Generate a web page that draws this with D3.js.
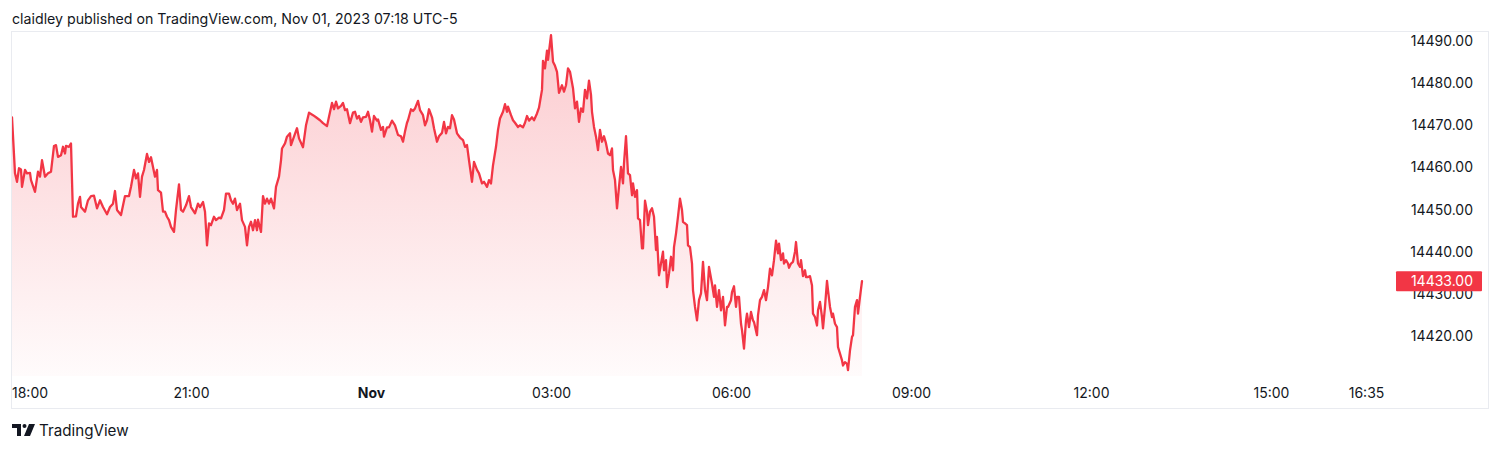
<!DOCTYPE html>
<html>
<head>
<meta charset="utf-8">
<script src="https://cdn.jsdelivr.net/npm/d3@7/dist/d3.min.js"></script>
<style>
  html, body { margin: 0; padding: 0; background: #ffffff; }
  svg { display: block; }
  text { font-family: Inter, "Noto Sans", sans-serif; fill: #131722; }
</style>
</head>
<body>
<svg id="chart" width="1500" height="450"></svg>
<script>
// ---- data (minutes after Oct 31, 18:00 chart time; price) ----
const minutes = [
  1,4,6,8,10,11,14,16,19,20,24,27,29,31,34,37,40,43,45,47,50,52,54,55,58,60,
  62,65,67,69,70,74,77,80,83,86,89,92,96,99,102,104,106,110,114,118,120,123,125,127,129,131,133,136,138,140,142,144,146,147,150,152,154,156,158,160,163,165,168,170,172,175,178,180,184,187,189,192,194,196,198,200,203,205,208,210,213,215,218,220,222,224,226,229,231,234,236,238,240,242,244,246,247,250,252,254,256,258,260,263,265,268,270,271,274,276,279,280,283,286,
  288,292,295,298,302,305,309,312,316,318,321,323,325,327,330,332,334,336,339,342,344,346,348,350,352,355,357,359,361,363,366,367,370,372,373,376,378,381,384,387,390,392,394,396,397,400,402,404,407,409,412,414,416,418,421,423,426,428,431,433,435,437,439,441,443,446,449,452,454,456,458,461,463,466,468,471,473,476,478,480,482,485,487,489,492,494,496,497,500,502,504,507,509,512,514,516,518,521,523,526,528,531,532,534,536,537,540,542,544,546,548,551,553,555,557,559,562,564,566,568,
  570,572,574,576,578,580,581,583,585,587,589,591,593,595,597,599,601,602,604,606,608,610,612,613,615,617,619,621,622,624,626,627,629,631,632,634,636,637,639,641,643,645,646,648,650,652,653,655,656,658,660,662,663,665,667,669,671,672,674,676,677,679,681,682,684,686,688,690,692,694,696,698,701,703,704,706,708,710,712,714,716,717,720,721,723,725,726,728,730,731,733,735,736,738,740,742,743,746,747,749,751,753,755,757,759,761,763,765,767,768,770,772,773,775,777,778,780,782,784,785,787,789,790,792,794,795,797,799,801,802,804,806,807,809,811,812,814,816,817,819,821,822,824,826,827,829,831,832,834,836,837,839,841,842,844,846,847,849,851
];
const prices = [
  14471.9,14458.6,14456.6,14459.8,14459.5,14455.4,14459.4,14458.6,14458.7,14457.0,14454.2,14459.0,14457.8,14461.7,14457.8,14458.6,14459.0,14465.1,14465.3,14462.5,14462.9,14464.9,14463.3,14465.1,14464.9,14465.7,
  14448.3,14448.4,14451.4,14453.0,14450.6,14449.5,14452.2,14453.2,14453.3,14450.3,14452.2,14450.6,14448.9,14450.6,14451.4,14454.4,14449.9,14448.7,14453.2,14453.2,14455.4,14459.4,14457.4,14458.6,14453.0,14457.8,14459.4,14463.2,14461.3,14462.4,14460.1,14457.8,14459.4,14454.6,14454.0,14449.5,14449.5,14448.3,14447.5,14445.9,14444.7,14449.9,14456.0,14449.9,14449.5,14451.0,14453.2,14450.6,14449.1,14451.4,14450.6,14451.8,14449.5,14441.5,14446.7,14446.3,14448.3,14447.5,14448.1,14447.9,14449.9,14453.8,14453.8,14452.2,14451.4,14452.6,14449.9,14451.4,14447.5,14445.9,14441.5,14445.9,14447.1,14445.1,14447.5,14445.1,14447.6,14444.7,14453.2,14451.4,14452.6,14451.4,14452.6,14450.3,14455.4,14457.8,14461.7,14464.5,14465.7,14467.3,14468.1,14465.3,14467.3,14469.3,
  14466.9,14464.8,14470.0,14473.0,14472.4,14471.9,14471.2,14470.5,14469.8,14472.0,14475.3,14473.8,14475.6,14474.0,14474.6,14475.3,14473.6,14473.8,14470.5,14473.0,14473.2,14471.6,14472.2,14470.8,14471.9,14472.0,14473.2,14471.2,14468.5,14472.2,14471.1,14471.4,14468.9,14469.6,14467.3,14469.5,14469.5,14471.1,14470.0,14467.7,14467.4,14466.1,14468.5,14470.6,14471.2,14473.8,14473.4,14474.0,14475.8,14473.6,14472.4,14470.0,14471.2,14473.8,14471.9,14469.3,14466.1,14467.4,14468.2,14470.8,14468.1,14469.6,14469.3,14472.4,14471.4,14468.1,14467.1,14466.5,14464.9,14465.3,14461.7,14456.6,14461.3,14459.4,14458.6,14456.2,14456.6,14455.4,14457.0,14456.2,14460.5,14464.9,14468.9,14471.6,14473.2,14475.0,14473.2,14474.4,14472.4,14471.2,14470.6,14469.6,14470.0,14469.5,14470.6,14472.2,14471.1,14471.9,14471.2,14472.8,14474.2,14478.4,14485.3,14483.5,14487.7,14485.5,14491.4,14485.1,14484.1,14482.7,14477.7,14479.5,14478.0,14479.5,14483.5,14482.7,14478.8,14474.0,14475.6,14470.8,
  14474.0,14473.2,14478.4,14476.4,14480.6,14477.2,14473.2,14469.6,14467.3,14464.1,14468.9,14466.1,14467.4,14465.7,14463.3,14462.9,14464.5,14459.4,14457.0,14450.3,14455.4,14460.1,14456.2,14461.0,14467.4,14458.6,14458.2,14453.4,14456.2,14453.0,14454.6,14447.9,14447.5,14440.8,14440.8,14452.1,14449.5,14446.3,14449.5,14450.3,14448.3,14440.4,14443.5,14434.4,14437.2,14440.0,14435.6,14438.0,14431.6,14434.8,14438.8,14435.6,14441.1,14444.3,14448.3,14452.6,14449.9,14447.1,14446.7,14446.3,14441.5,14441.1,14437.2,14430.9,14426.9,14423.7,14428.5,14430.1,14437.6,14430.9,14428.5,14436.4,14432.4,14429.3,14432.0,14426.9,14430.9,14426.1,14429.3,14422.5,14426.9,14426.9,14428.5,14430.4,14431.8,14426.9,14429.3,14429.3,14422.9,14421.4,14417.0,14423.7,14425.3,14422.1,14425.7,14423.7,14423.3,14420.2,14424.9,14428.5,14429.3,14430.9,14428.5,14431.6,14436.0,14434.4,14438.0,14442.6,14439.6,14441.9,14438.0,14439.6,14437.2,14438.0,14437.2,14436.2,14437.2,14437.6,14440.0,14442.3,14437.2,14436.4,14438.0,14434.2,14435.6,14434.0,14434.0,14434.2,14432.0,14425.3,14424.5,14422.5,14426.1,14428.1,14424.5,14421.8,14426.9,14433.1,14430.9,14426.9,14424.5,14425.3,14422.9,14422.1,14417.4,14415.8,14414.2,14413.0,14413.8,14413.4,14411.9,14416.6,14419.8,14420.2,14426.9,14428.5,14425.3,14429.3,14433.0
];
const priceTicks = [14420, 14430, 14440, 14450, 14460, 14470, 14480, 14490];
const timeTickMinutes = [0, 180, 360, 540, 720, 900, 1080, 1260, 1355];
const timeTickLabels = ["18:00", "21:00", "Nov", "03:00", "06:00", "09:00", "12:00", "15:00", "16:35"];
const lastPrice = 14433.00;
const headerText = "claidley published on TradingView.com, Nov 01, 2023 07:18 UTC-5";
const brandText = "TradingView";

// ---- layout ----
const svg = d3.select("#chart");
const base = new Date(2023, 9, 31, 18, 0, 0);
const toDate = m => new Date(base.getTime() + m * 60000);
const pane = { left: 11, right: 1396, top: 31, bottom: 376 };
const frame = { left: 11, right: 1488, top: 31, bottom: 408 };

const x = d3.scaleTime()
  .domain([toDate(0), toDate(1385)])
  .range([pane.left, pane.right]);
const y = d3.scaleLinear()
  .domain([14420, 14490])
  .range([336, 41]);

const data = minutes.map((m, i) => ({ t: toDate(m), v: prices[i] }));

// header
svg.append("text")
  .attr("x", 12).attr("y", 24)
  .attr("font-size", 14.2)
  .text(headerText);

// frame
svg.append("rect")
  .attr("x", frame.left + 0.5).attr("y", frame.top + 0.5)
  .attr("width", frame.right - frame.left).attr("height", frame.bottom - frame.top)
  .attr("fill", "none").attr("stroke", "#e9ebf0").attr("stroke-width", 1);

// gradient
const defs = svg.append("defs");
const grad = defs.append("linearGradient")
  .attr("id", "areaGrad").attr("gradientUnits", "userSpaceOnUse")
  .attr("x1", 0).attr("x2", 0).attr("y1", y(d3.max(prices))).attr("y2", pane.bottom);
grad.append("stop").attr("offset", 0).attr("stop-color", "#f23645").attr("stop-opacity", 0.26);
grad.append("stop").attr("offset", 1).attr("stop-color", "#f23645").attr("stop-opacity", 0.02);

defs.append("clipPath").attr("id", "paneClip")
  .append("rect").attr("x", pane.left + 1).attr("y", pane.top + 1)
  .attr("width", pane.right - pane.left - 1).attr("height", pane.bottom - pane.top);

const g = svg.append("g").attr("clip-path", "url(#paneClip)");

const area = d3.area()
  .x(d => x(d.t)).y0(pane.bottom).y1(d => y(d.v));
const line = d3.line()
  .x(d => x(d.t)).y(d => y(d.v));

g.append("path").datum(data).attr("d", area).attr("fill", "url(#areaGrad)");
g.append("path").datum(data).attr("d", line)
  .attr("fill", "none").attr("stroke", "#f23645").attr("stroke-width", 2.3)
  .attr("stroke-linejoin", "round").attr("stroke-linecap", "round");

// price axis
const yAxis = d3.axisRight(y).tickValues(priceTicks).tickFormat(d3.format(".2f")).tickSize(0);
const yg = svg.append("g").attr("transform", `translate(1473,0)`).call(yAxis);
yg.select(".domain").remove();
yg.selectAll("text")
  .attr("x", 0).attr("text-anchor", "end")
  .attr("font-family", "Inter, sans-serif").attr("font-size", 14).attr("fill", "#131722");

// last price label (drawn over the 14430 tick, as in the original)
const ly = y(lastPrice);
svg.append("rect")
  .attr("x", 1396).attr("y", ly - 10).attr("width", 86).attr("height", 20)
  .attr("rx", 1).attr("fill", "#f23645");
svg.append("text")
  .attr("x", 1473).attr("y", ly).attr("dy", "0.35em")
  .attr("text-anchor", "end").attr("font-size", 14)
  .style("fill", "#ffffff")
  .text(d3.format(".2f")(lastPrice));

// time axis
const xAxis = d3.axisBottom(x)
  .tickValues(timeTickMinutes.map(toDate))
  .tickFormat((d, i) => timeTickLabels[i])
  .tickSize(0);
const xg = svg.append("g").attr("transform", `translate(0,${pane.bottom})`).call(xAxis);
xg.select(".domain").remove();
xg.selectAll("text")
  .attr("y", 17).attr("dy", "0.35em")
  .attr("font-family", "Inter, sans-serif").attr("font-size", 14).attr("fill", "#131722")
  .attr("font-weight", (d, i) => timeTickLabels[i] === "Nov" ? 700 : 400);
// keep edge label inside the pane
xg.selectAll(".tick").each(function () {
  const t = d3.select(this).select("text");
  const w = t.node().getComputedTextLength();
  const tx = +d3.select(this).attr("transform").match(/translate\(([-\d.]+)/)[1];
  if (tx - w / 2 < pane.left + 1) t.attr("x", pane.left + 1 + w / 2 - tx);
});

// brand logo
const logo = svg.append("g").attr("transform", "translate(12,424)").attr("fill", "#131722");
logo.append("path").attr("d", "M0,0 H9 V12 H5 V4 H0 Z");
logo.append("circle").attr("cx", 12.5).attr("cy", 2).attr("r", 2);
logo.append("path").attr("d", "M17,0 H23 L18,12 H12 Z");
svg.append("text")
  .attr("x", 39).attr("y", 436)
  .attr("font-size", 15.2)
  .text(brandText);
</script>
</body>
</html>
